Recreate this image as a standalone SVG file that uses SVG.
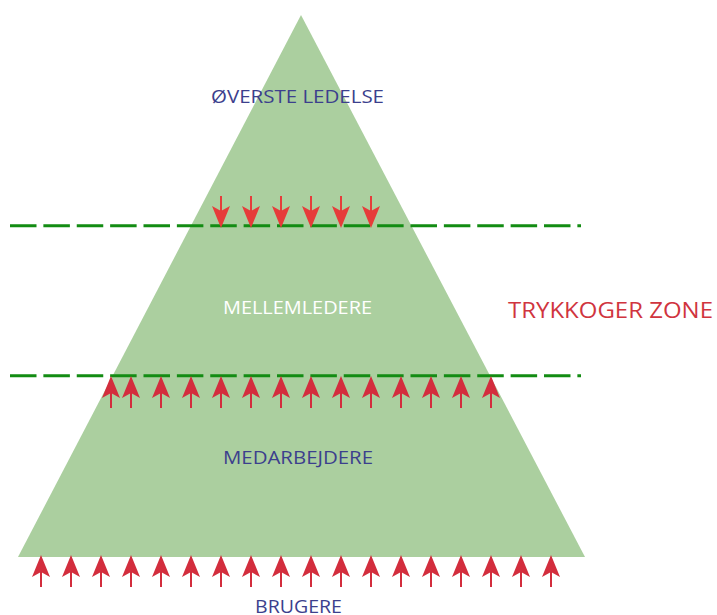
<svg xmlns="http://www.w3.org/2000/svg" xmlns:xlink="http://www.w3.org/1999/xlink" width="717" height="615" viewBox="0 0 717 615">
<style>
.lbl{font-family:"Open Sans","DejaVu Sans",sans-serif;font-size:19px;text-anchor:middle;fill:#3c3f8d}
.white{fill:#ffffff}
.zone{font-family:"Open Sans","DejaVu Sans",sans-serif;font-size:22px;fill:#d0343e}
.dash{stroke:#138c13;stroke-width:3;stroke-dasharray:26.5 6.875;fill:none}
.up{fill:#d32d3d;stroke:#d32d3d}
.down{fill:#e63c3a;stroke:#e63c3a}
</style>
<defs>
<g id="arrow">
<line x1="0" y1="10" x2="0" y2="32" stroke-width="2"/>
<path d="M0,0 L9,22 L0,17 L-9,22 Z" stroke="none"/>
</g>
</defs>
<g id="pyramid">
<polygon points="301,15 585,557 18,557" fill="#abcf9f"/>
</g>
<g id="connectors">
<line class="dash" x1="10" y1="225.8" x2="581" y2="225.8"/>
<line class="dash" x1="10" y1="375.8" x2="581" y2="375.8"/>
<g class="down">
<use xlink:href="#arrow" transform="translate(221,228) rotate(180)"/>
<use xlink:href="#arrow" transform="translate(251,228) rotate(180)"/>
<use xlink:href="#arrow" transform="translate(281,228) rotate(180)"/>
<use xlink:href="#arrow" transform="translate(311,228) rotate(180)"/>
<use xlink:href="#arrow" transform="translate(341,228) rotate(180)"/>
<use xlink:href="#arrow" transform="translate(371,228) rotate(180)"/>
</g>
<g class="up">
<use xlink:href="#arrow" x="111" y="376"/>
<use xlink:href="#arrow" x="131" y="376"/>
<use xlink:href="#arrow" x="161" y="376"/>
<use xlink:href="#arrow" x="191" y="376"/>
<use xlink:href="#arrow" x="221" y="376"/>
<use xlink:href="#arrow" x="251" y="376"/>
<use xlink:href="#arrow" x="281" y="376"/>
<use xlink:href="#arrow" x="311" y="376"/>
<use xlink:href="#arrow" x="341" y="376"/>
<use xlink:href="#arrow" x="371" y="376"/>
<use xlink:href="#arrow" x="401" y="376"/>
<use xlink:href="#arrow" x="431" y="376"/>
<use xlink:href="#arrow" x="461" y="376"/>
<use xlink:href="#arrow" x="491" y="376"/>
</g>
<g class="up">
<use xlink:href="#arrow" x="41" y="555"/>
<use xlink:href="#arrow" x="71" y="555"/>
<use xlink:href="#arrow" x="101" y="555"/>
<use xlink:href="#arrow" x="131" y="555"/>
<use xlink:href="#arrow" x="161" y="555"/>
<use xlink:href="#arrow" x="191" y="555"/>
<use xlink:href="#arrow" x="221" y="555"/>
<use xlink:href="#arrow" x="251" y="555"/>
<use xlink:href="#arrow" x="281" y="555"/>
<use xlink:href="#arrow" x="311" y="555"/>
<use xlink:href="#arrow" x="341" y="555"/>
<use xlink:href="#arrow" x="371" y="555"/>
<use xlink:href="#arrow" x="401" y="555"/>
<use xlink:href="#arrow" x="431" y="555"/>
<use xlink:href="#arrow" x="461" y="555"/>
<use xlink:href="#arrow" x="491" y="555"/>
<use xlink:href="#arrow" x="521" y="555"/>
<use xlink:href="#arrow" x="551" y="555"/>
</g>
</g>
<g id="top-management"><text class="lbl" x="297.5" y="103" textLength="173" lengthAdjust="spacingAndGlyphs">ØVERSTE LEDELSE</text></g>
<g id="middle-managers"><text class="lbl white" x="297.5" y="314" textLength="149" lengthAdjust="spacingAndGlyphs">MELLEMLEDERE</text></g>
<g id="employees"><text class="lbl" x="298" y="464" textLength="150" lengthAdjust="spacingAndGlyphs">MEDARBEJDERE</text></g>
<g id="users"><text class="lbl" x="298.5" y="613" textLength="87" lengthAdjust="spacingAndGlyphs">BRUGERE</text></g>
<g id="zone"><text class="zone" x="508" y="318" textLength="205" lengthAdjust="spacingAndGlyphs">TRYKKOGER ZONE</text></g>
</svg>
